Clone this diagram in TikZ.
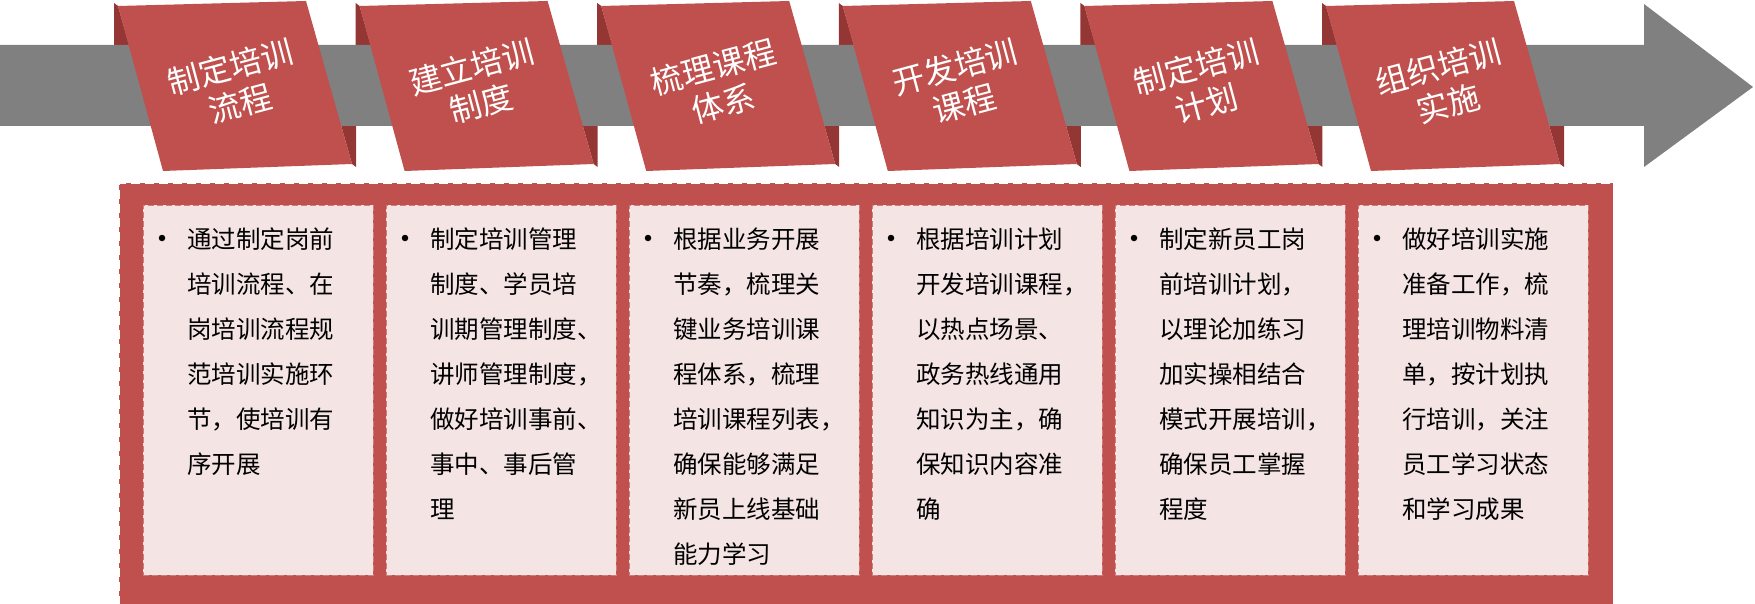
\documentclass[tikz,border=0pt]{standalone}
\usepackage{fontspec}
\setmainfont{Noto Sans CJK SC}
\usepackage{xcolor}
\usetikzlibrary{positioning,calc}
\definecolor{ribbon}{HTML}{C0504D}
\definecolor{fold}{HTML}{943634}
\definecolor{shaft}{HTML}{808080}
\definecolor{cardfill}{HTML}{F5E4E4}
\tikzset{
  tag/.style={text=white, align=center, rotate=15, inner sep=0pt, font=\fontsize{32}{38}\selectfont},
  frame/.style={fill=ribbon, draw=white, line width=0.8pt, dash pattern=on 9pt off 5pt, inner sep=0pt, minimum width=1494pt, minimum height=421pt},
  cardbox/.style={fill=cardfill, draw=ribbon!70!cardfill, line width=0.8pt, dash pattern=on 6pt off 3pt, inner sep=0pt, minimum width=230pt, minimum height=370pt},
  cardtext/.style={anchor=base west, text width=190pt, align=left, inner sep=0pt, font=\fontsize{24.5}{45}\selectfont},
  bulletdot/.style={circle, fill=black, inner sep=0pt, minimum size=6.5pt}
}
\begin{document}
\begin{tikzpicture}[x=1pt,y=-1pt]
\useasboundingbox (0,0) rectangle (1755,604);

% folded ends behind the shaft
\foreach \i in {0,...,5}{
  \pgfmathsetmacro\dx{241.6*\i}
  \fill[fold] (114+\dx,3) -- (118+\dx,6) -- (131+\dx,52) -- (114+\dx,52) -- cycle;
  \fill[fold] (356+\dx,167) -- (352+\dx,164) -- (339+\dx,118) -- (356+\dx,118) -- cycle;
}

% shaft with head
\fill[shaft] (0,45) -- (1644,45) -- (1644,4) -- (1753,87) -- (1644,167) -- (1644,126) -- (0,126) -- cycle;

% step ribbons
\foreach \t [count=\i from 0] in {{制定培训\\流程},{建立培训\\制度},{梳理课程\\体系},{开发培训\\课程},{制定培训\\计划},{组织培训\\实施}}{
  \pgfmathsetmacro\dx{241.6*\i}
  \fill[ribbon] (118+\dx,6) -- (306+\dx,1) -- (352+\dx,164) -- (163+\dx,171) -- cycle;
  \node[tag] (tag\i) at (235+\dx,85) {\t};
}

% lower panel
\node[frame, anchor=north west] (panel) at (119,183) {};

\foreach \t [count=\i from 0] in {
  {通过制定岗前\\培训流程、在\\岗培训流程规\\范培训实施环\\节，使培训有\\序开展},
  {制定培训管理\\制度、学员培\\训期管理制度、\\讲师管理制度，\\做好培训事前、\\事中、事后管\\理},
  {根据业务开展\\节奏，梳理关\\键业务培训课\\程体系，梳理\\培训课程列表，\\确保能够满足\\新员上线基础\\能力学习},
  {根据培训计划\\开发培训课程，\\以热点场景、\\政务热线通用\\知识为主，确\\保知识内容准\\确},
  {制定新员工岗\\前培训计划，\\以理论加练习\\加实操相结合\\模式开展培训，\\确保员工掌握\\程度},
  {做好培训实施\\准备工作，梳\\理培训物料清\\单，按计划执\\行培训，关注\\员工学习状态\\和学习成果}}{
  \node[cardbox, anchor=north west] (card\i) at (143+243*\i,205) {};
  \node[bulletdot] (dot\i) at ($(card\i.north west)+(19,33)$) {};
  \node[cardtext] (text\i) at ($(card\i.north west)+(44,43)$) {\t};
}
\end{tikzpicture}
\end{document}
